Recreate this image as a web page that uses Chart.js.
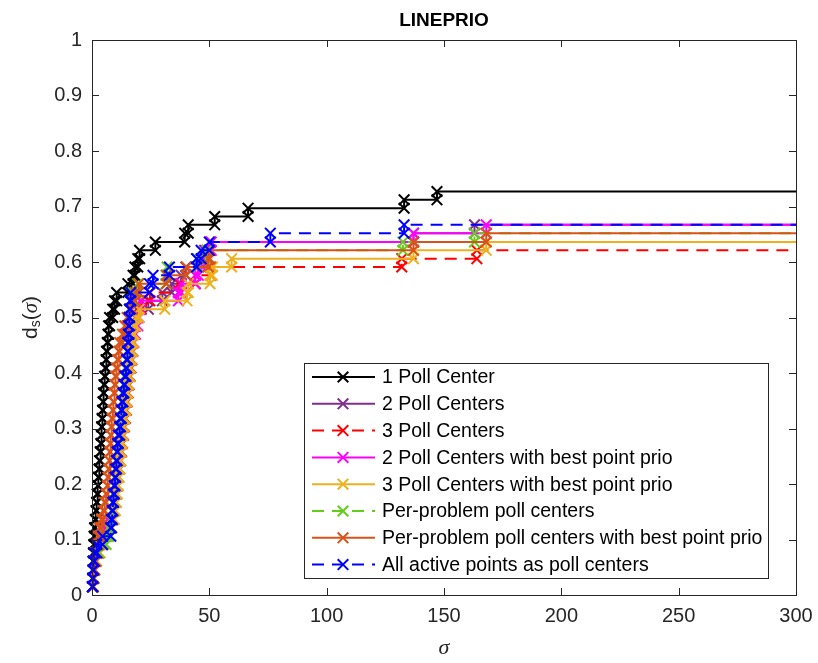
<!DOCTYPE html>
<html lang="en">
<head>
<meta charset="UTF-8" />
<title>LINEPRIO data profile</title>
<script src="https://cdn.jsdelivr.net/npm/chart.js"></script>
<style>
  html, body { margin: 0; padding: 0; background: #fff; }
  #wrap { width: 818px; height: 663px; }
</style>
</head>
<body>
<div id="wrap"><canvas id="profile" width="818" height="663"></canvas></div>
<script>
  // fraction of problems solved, one entry per step (66 problems)
  const dsLevels = [0.015, 0.030, 0.045, 0.061, 0.076, 0.091, 0.106, 0.121, 0.136, 0.152,
                    0.167, 0.182, 0.197, 0.212, 0.227, 0.242, 0.258, 0.273, 0.288, 0.303,
                    0.318, 0.333, 0.348, 0.364, 0.379, 0.394, 0.409, 0.424, 0.439, 0.455,
                    0.470, 0.485, 0.500, 0.515, 0.530, 0.545, 0.561, 0.576, 0.591, 0.606,
                    0.621, 0.636, 0.652, 0.667, 0.682, 0.697, 0.712, 0.727];

  // sigma at which each successive problem gets solved
  const sigmaOne = [0.2, 0.3, 0.4, 0.5, 0.6, 0.8, 0.9, 1.1, 1.4, 1.7, 2.0, 2.2, 2.5, 2.7, 3.0, 3.2,
                    3.5, 3.8, 4.0, 4.1, 4.3, 4.5, 4.7, 4.9, 5.1, 5.4, 5.7, 6.0, 6.2, 6.5, 6.8, 7.1,
                    7.5, 8.8, 9.6, 10.5, 15.3, 17.5, 18.3, 19.5, 20.3, 27, 39.5, 41, 52.3, 66.5, 133, 147];
  const sigmaTwo = [0.3, 0.5, 0.7, 1.0, 1.6, 2.8, 4.2, 6.0, 7.8, 8.8, 9.4, 9.9, 10.4, 10.8, 11.2, 11.6,
                    12.0, 12.4, 12.8, 13.2, 13.6, 14.0, 14.4, 14.8, 15.2, 15.6, 16.0, 16.4, 16.8, 17.2,
                    17.6, 18.0, 18.5, 19.0, 24, 30, 34, 38, 40, 44.6, 48, 50.5, 137, 163];
  const sigmaThree = [0.3, 0.5, 0.7, 1.0, 1.8, 3.0, 4.5, 6.0, 8.0, 9.0, 9.6, 10.1, 10.6, 11.0, 11.4, 11.8,
                      12.2, 12.6, 13.0, 13.4, 13.8, 14.2, 14.6, 15.0, 15.4, 15.8, 16.2, 16.6, 17.0, 17.4,
                      17.8, 18.2, 18.6, 19.5, 21.0, 24.7, 37, 44, 50.5, 132, 164];
  const sigmaTwoBest = [0.3, 0.4, 0.6, 0.9, 1.5, 2.5, 3.3, 4.0, 6.5, 8.5, 9.0, 9.5, 10.0, 10.4, 10.8, 11.2,
                        11.6, 12.0, 12.4, 12.8, 13.2, 13.6, 14.0, 14.4, 14.8, 15.2, 15.6, 16.0, 16.5, 17.0,
                        17.5, 18.5, 19.5, 20.0, 20.5, 36.8, 38, 44, 45.3, 47, 48.9, 50.8, 137, 168];
  const sigmaThreeBest = [0.4, 0.6, 0.9, 1.3, 2.0, 3.5, 5.0, 7.0, 8.5, 9.5, 10.0, 10.4, 10.8, 11.2, 11.5, 11.8,
                          12.1, 12.4, 12.8, 13.2, 13.6, 14.0, 14.4, 14.8, 15.2, 15.6, 16.0, 16.4, 16.8, 17.2,
                          17.6, 18.0, 18.8, 20, 31, 40.5, 41, 50.3, 51.3, 59.5, 137, 168];
  const sigmaPerProblem = [0.3, 0.4, 0.6, 0.9, 1.5, 3.0, 6.0, 7.0, 7.8, 8.3, 8.8, 9.0, 9.3, 9.6, 9.9, 10.2,
                           10.5, 10.8, 11.2, 11.6, 12.0, 12.4, 12.7, 13.0, 13.4, 13.8, 14.2, 14.6, 15.0, 15.2,
                           15.4, 15.6, 15.8, 16.0, 16.4, 17.5, 19.5, 31.5, 32, 45, 49, 132.5, 163];
  const sigmaPerProblemBest = [0.3, 0.5, 0.8, 1.2, 1.6, 2.2, 2.6, 3.2, 4.0, 4.8, 5.4, 6.0, 6.5, 6.8, 7.1, 7.4,
                               7.6, 7.8, 8.0, 8.2, 8.5, 8.9, 9.1, 9.4, 9.7, 10.0, 10.4, 10.9, 11.4, 11.8,
                               13.0, 14.0, 15.0, 16.0, 17.0, 18.5, 20.0, 31.8, 40.3, 49.5, 50.2, 137, 168];
  const sigmaAllActive = [0.2, 0.3, 0.4, 0.6, 1.0, 2.0, 4.5, 8.0, 8.3, 8.6, 8.9, 9.2, 9.5, 9.8, 10.1, 10.4,
                          10.7, 10.9, 11.2, 11.8, 12.1, 12.5, 12.8, 13.2, 13.6, 14.0, 14.5, 14.8, 15.1, 15.3,
                          15.5, 15.7, 15.9, 16.0, 16.2, 16.5, 24.5, 26, 33, 44.6, 46.5, 50, 76, 133];

  const seriesNames = ['1 Poll Center', '2 Poll Centers', '3 Poll Centers',
                       '2 Poll Centers with best point prio', '3 Poll Centers with best point prio',
                       'Per-problem poll centers', 'Per-problem poll centers with best point prio',
                       'All active points as poll centers'];
  const seriesSigma = [sigmaOne, sigmaTwo, sigmaThree, sigmaTwoBest, sigmaThreeBest,
                       sigmaPerProblem, sigmaPerProblemBest, sigmaAllActive];
  const seriesColors = ['#000000', '#7E2F8E', '#FF0000', '#FF00FF', '#EDB120', '#63CE1A', '#D95319', '#0000FF'];
  const seriesDashed = [false, false, true, false, false, true, false, true];

  const sigmaMax = 300;
  const SANS = "'Liberation Sans', Arial, Helvetica, sans-serif";
  const AXIS = '#262626';
  const DASH = [12, 8];
  const MARK_R = 7.5;

  // stairs: markers sit on both corners of every riser
  function stairPoints(sig) {
    const pts = [{ x: sig[0], y: dsLevels[0] }];
    for (let i = 1; i < sig.length; i++) {
      pts.push({ x: sig[i], y: dsLevels[i - 1] });
      pts.push({ x: sig[i], y: dsLevels[i] });
    }
    pts.push({ x: sigmaMax, y: dsLevels[sig.length - 1] });
    return pts;
  }

  const datasets = seriesNames.map((name, i) => ({
    label: name,
    data: stairPoints(seriesSigma[i]),
    borderColor: seriesColors[i],
    backgroundColor: seriesColors[i],
    borderWidth: 2,
    borderDash: seriesDashed[i] ? DASH : [],
    pointStyle: 'crossRot',
    pointRadius: ctx => ctx.dataIndex === ctx.dataset.data.length - 1 ? 0 : MARK_R,
    pointBorderWidth: 2,
    pointBorderColor: seriesColors[i],
    tension: 0,
    clip: false,
    order: seriesNames.length - i
  }));

  function drawCross(ctx, x, y, r) {
    const d = r * Math.SQRT1_2;
    ctx.beginPath();
    ctx.moveTo(x - d, y - d); ctx.lineTo(x + d, y + d);
    ctx.moveTo(x + d, y - d); ctx.lineTo(x - d, y + d);
    ctx.stroke();
  }

  // axes box, inward ticks, title, axis labels and legend
  const frame = {
    id: 'frame',
    afterDraw(chart) {
      const { ctx, chartArea: a, scales } = chart;
      ctx.save();
      ctx.strokeStyle = AXIS;
      ctx.lineWidth = 1;
      ctx.strokeRect(a.left + 0.5, a.top + 0.5, a.right - a.left, a.bottom - a.top);
      ctx.beginPath();
      scales.x.ticks.forEach(t => {
        const px = Math.round(scales.x.getPixelForValue(t.value)) + 0.5;
        ctx.moveTo(px, a.bottom); ctx.lineTo(px, a.bottom - 7);
        ctx.moveTo(px, a.top); ctx.lineTo(px, a.top + 7);
      });
      scales.y.ticks.forEach(t => {
        const py = Math.round(scales.y.getPixelForValue(t.value)) + 0.5;
        ctx.moveTo(a.left, py); ctx.lineTo(a.left + 7, py);
        ctx.moveTo(a.right, py); ctx.lineTo(a.right - 7, py);
      });
      ctx.stroke();

      // title
      ctx.fillStyle = '#000';
      ctx.font = 'bold 19px ' + SANS;
      ctx.textAlign = 'center';
      ctx.textBaseline = 'middle';
      ctx.fillText('LINEPRIO', (a.left + a.right) / 2, 21);

      // x label
      ctx.fillStyle = AXIS;
      ctx.font = "italic 22px 'Liberation Serif', 'DejaVu Serif', serif";
      ctx.fillText('σ', (a.left + a.right) / 2, 648);

      // y label d_s(σ)
      ctx.save();
      ctx.translate(31, (a.top + a.bottom) / 2);
      ctx.rotate(-Math.PI / 2);
      const parts = [
        { t: 'd', f: '21px ' + SANS, dy: 0 },
        { t: 's', f: '14px ' + SANS, dy: 5 },
        { t: '(', f: '21px ' + SANS, dy: 0 },
        { t: 'σ', f: "italic 21px 'Liberation Serif', 'DejaVu Serif', serif", dy: 0 },
        { t: ')', f: '21px ' + SANS, dy: 0 }
      ];
      let total = 0;
      parts.forEach(p => { ctx.font = p.f; p.w = ctx.measureText(p.t).width; total += p.w; });
      let cx = -total / 2;
      ctx.textAlign = 'left';
      ctx.textBaseline = 'middle';
      parts.forEach(p => { ctx.font = p.f; ctx.fillText(p.t, cx, p.dy); cx += p.w; });
      ctx.restore();

      // legend box
      const lx = 304, ly = 363, lw = 464, lh = 215, rowH = 26.8, row0 = 377;
      ctx.fillStyle = '#fff';
      ctx.fillRect(lx, ly, lw, lh);
      ctx.strokeStyle = AXIS;
      ctx.lineWidth = 1;
      ctx.strokeRect(lx + 0.5, ly + 0.5, lw, lh);
      ctx.font = '19.5px ' + SANS;
      ctx.textAlign = 'left';
      ctx.textBaseline = 'middle';
      seriesNames.forEach((name, i) => {
        const y = row0 + i * rowH;
        ctx.strokeStyle = seriesColors[i];
        ctx.lineWidth = 2;
        ctx.setLineDash(seriesDashed[i] ? DASH : []);
        ctx.beginPath();
        ctx.moveTo(312, y); ctx.lineTo(375, y);
        ctx.stroke();
        ctx.setLineDash([]);
        drawCross(ctx, 343, y, MARK_R);
        ctx.fillStyle = '#000';
        ctx.fillText(name, 382, y + 1);
      });
      ctx.restore();
    }
  };

  new Chart(document.getElementById('profile'), {
    type: 'line',
    data: { datasets },
    options: {
      responsive: false,
      animation: false,
      events: [],
      layout: { padding: { top: 40, right: 22, left: 0, bottom: 0 } },
      plugins: { legend: { display: false }, tooltip: { enabled: false } },
      scales: {
        x: {
          type: 'linear', min: 0, max: sigmaMax,
          grid: { display: false, drawTicks: false },
          border: { display: false },
          ticks: { stepSize: 50, padding: 9, color: AXIS, font: { size: 20, family: SANS } },
          afterFit(s) { s.height = 68; s.paddingLeft = 0; s.paddingRight = 0; }
        },
        y: {
          type: 'linear', min: 0, max: 1,
          grid: { display: false, drawTicks: false },
          border: { display: false },
          ticks: { stepSize: 0.1, padding: 10, color: AXIS, font: { size: 20, family: SANS },
                   callback: v => String(Math.round(v * 10) / 10) },
          afterFit(s) { s.width = 92; s.paddingTop = 0; s.paddingBottom = 0; }
        }
      }
    },
    plugins: [frame]
  });
</script>
</body>
</html>
